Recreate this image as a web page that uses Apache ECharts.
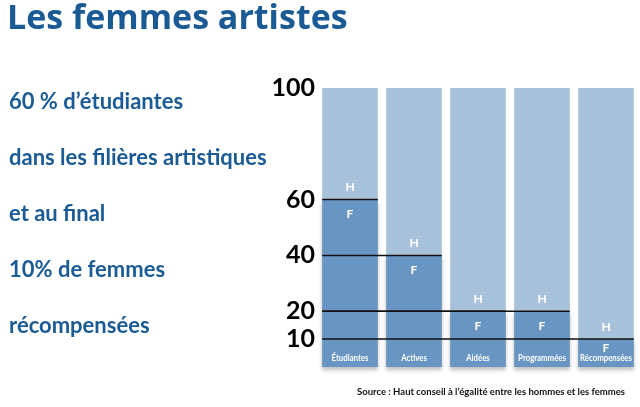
<!DOCTYPE html>
<html>
<head>
<meta charset="utf-8">
<script src="https://cdn.jsdelivr.net/npm/echarts@6/dist/echarts.min.js"></script>
<style>
html,body{margin:0;padding:0;background:#fff;}
#chart{width:640px;height:407px;}
</style>
</head>
<body>
<div id="chart"></div>
<script>
const categories = ['Étudiantes', 'Actives', 'Aidées', 'Programmées', 'Récompensées'];
const femmes = [60, 40, 20, 20, 10];
const hommes = [40, 60, 80, 80, 90];
const tickLabels = [10, 20, 40, 60, 100];
const title = 'Les femmes artistes';
const sideLines = ['60 % d’étudiantes', 'dans les filières artistiques', 'et au final', '10% de femmes', 'récompensées'];
const source = 'Source : Haut conseil à l’égalité entre les hommes et les femmes';

const chart = echarts.init(document.getElementById('chart'));
const blue = '#1a5b95';
const gap = 0.13;

const fData = femmes.map(v => ({
  value: v,
  label: { distance: v < 15 ? 3 : 9 }
}));

const graphics = [
  { type: 'text', left: 7, top: 2, style: { text: title, font: 'bold 34px "Open Sans", Lato, sans-serif', fill: blue } }
];
sideLines.forEach((t, i) => {
  graphics.push({ type: 'text', left: 9, top: 91 + i * 56, style: { text: t, font: 'bold 22px Lato, "Open Sans", sans-serif', fill: blue } });
});
graphics.push({ type: 'text', right: 15, top: 387, style: { text: source, font: 'bold 9.5px Lato, "Open Sans", sans-serif', fill: '#111' } });

chart.setOption({
  animation: false,
  backgroundColor: '#fff',
  graphic: graphics,
  grid: { left: 318, right: 2, top: 88, bottom: 40 },
  xAxis: {
    type: 'category',
    data: categories,
    axisLine: { show: false },
    axisTick: { show: false },
    axisLabel: { show: false }
  },
  yAxis: {
    type: 'value', min: 0, max: 100, interval: 10,
    splitLine: { show: false },
    axisLine: { show: false },
    axisTick: { show: false },
    axisLabel: {
      margin: 3, color: '#000', fontSize: 25, fontWeight: 'bold',
      fontFamily: 'Lato, "Open Sans", sans-serif',
      formatter: v => tickLabels.indexOf(v) >= 0 ? String(v) : ''
    }
  },
  series: [
    {
      type: 'bar', stack: 'total', data: fData, barCategoryGap: (gap * 100) + '%',
      itemStyle: { color: '#6895c1', shadowColor: 'rgba(0,0,0,0.25)', shadowBlur: 4, shadowOffsetY: 3 },
      label: { show: true, position: 'insideTop', formatter: 'F', color: '#fff', fontSize: 12, fontWeight: 'bold', fontFamily: 'Lato, sans-serif' }
    },
    {
      type: 'bar', stack: 'total', data: hommes, barCategoryGap: (gap * 100) + '%',
      itemStyle: { color: '#a8c1db' },
      label: { show: true, position: 'insideBottom', distance: 6, formatter: 'H', color: '#fff', fontSize: 12, fontWeight: 'bold', fontFamily: 'Lato, sans-serif' }
    },
    {
      type: 'custom',
      data: femmes.map((v, i) => [i, v]),
      z: 5,
      renderItem: function (params, api) {
        const idx = api.value(0), v = api.value(1);
        const band = api.size([1, 0])[0];
        const half = band * (1 - gap) / 2;
        const p0 = api.coord([0, v]);
        const p1 = api.coord([idx, v]);
        return {
          type: 'line',
          shape: { x1: p0[0] - half, y1: p0[1], x2: p1[0] + half, y2: p1[1] },
          style: { stroke: '#111', lineWidth: 1.5 }
        };
      }
    },
    {
      type: 'custom',
      data: categories.map((c, i) => [i, 0]),
      z: 6,
      renderItem: function (params, api) {
        const idx = api.value(0);
        const p = api.coord([idx, 0]);
        return {
          type: 'text',
          x: p[0], y: p[1] - 9,
          scaleX: 0.78,
          style: {
            text: categories[idx], fill: '#fff',
            font: 'bold 10px Lato, "Open Sans", sans-serif',
            align: 'center', verticalAlign: 'middle'
          }
        };
      }
    }
  ]
});
</script>
</body>
</html>
